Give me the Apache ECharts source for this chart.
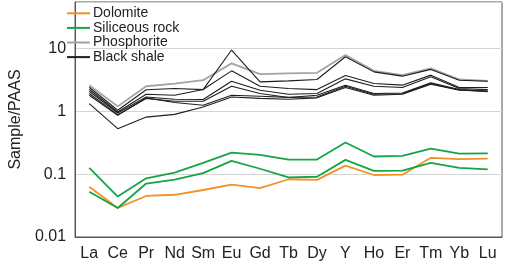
<!DOCTYPE html>
<html>
<head>
<meta charset="utf-8">
<script src="https://cdn.jsdelivr.net/npm/echarts@6/dist/echarts.min.js"></script>
<style>
  html, body { margin: 0; padding: 0; background: #fff; }
  #chart { width: 505px; height: 264px; }
</style>
</head>
<body>
<div id="chart"></div>
<script>
const elements = ['La', 'Ce', 'Pr', 'Nd', 'Sm', 'Eu', 'Gd', 'Tb', 'Dy', 'Y', 'Ho', 'Er', 'Tm', 'Yb', 'Lu']

// sample / PAAS normalised values
const dolomite = [0.063, 0.029, 0.045, 0.047, 0.056, 0.068, 0.060, 0.083, 0.081, 0.137, 0.097, 0.098, 0.182, 0.173, 0.177]
const siliceous1 = [0.126, 0.044, 0.086, 0.106, 0.151, 0.221, 0.203, 0.171, 0.171, 0.319, 0.191, 0.196, 0.256, 0.213, 0.215]
const siliceous2 = [0.0525, 0.029, 0.071, 0.082, 0.104, 0.163, 0.122, 0.089, 0.091, 0.169, 0.113, 0.114, 0.151, 0.126, 0.119]
const phosphorite = [2.61, 1.20, 2.51, 2.77, 3.13, 5.80, 3.91, 4.01, 4.10, 7.87, 4.41, 3.77, 4.82, 3.21, 3.05]
const shale1 = [2.42, 1.04, 2.21, 2.31, 2.22, 9.46, 2.94, 3.05, 3.21, 7.39, 4.25, 3.63, 4.65, 3.13, 3.02]
const shale2 = [2.25, 0.975, 1.87, 1.80, 2.22, 4.41, 2.51, 2.31, 2.22, 3.73, 2.77, 2.61, 3.77, 2.39, 2.39]
const shale3 = [2.09, 0.94, 1.69, 1.56, 1.54, 3.02, 2.17, 1.87, 1.92, 3.29, 2.51, 2.39, 3.54, 2.31, 2.22]
const shale4 = [1.92, 0.885, 1.60, 1.45, 1.45, 2.51, 1.92, 1.66, 1.80, 2.61, 1.92, 1.96, 2.84, 2.22, 2.11]
const shale5 = [1.80, 0.863, 1.64, 1.38, 1.25, 1.80, 1.74, 1.67, 1.69, 2.51, 1.87, 1.91, 2.75, 2.21, 2.05]
const shale6 = [1.33, 0.53, 0.81, 0.895, 1.17, 1.69, 1.61, 1.56, 1.64, 2.39, 1.80, 1.87, 2.70, 2.17, 2.09]

const ORANGE = '#f39121'
const GREEN = '#16a446'
const GREY = '#a3a3a3'
const BLACK = '#1e1e1e'
const font = 'Liberation Sans, Arial, sans-serif'

function mkLine(name, data, color, width) {
    return {
        name: name,
        type: 'line',
        data: data,
        symbol: 'none',
        color: color,
        lineStyle: { color: color, width: width },
        emphasis: { disabled: true },
        animation: false
    }
}

const chart = echarts.init(document.getElementById('chart'))
chart.setOption({
    animation: false,
    grid: { left: 53, right: 3, top: 2, bottom: 27, show: true, borderColor: '#555', borderWidth: 1 },
    legend: {
        data: ['Dolomite', 'Siliceous rock', 'Phosphorite', 'Black shale'],
        orient: 'vertical',
        left: 62,
        top: 1,
        itemWidth: 23,
        itemHeight: 2,
        itemGap: 0,
        icon: 'rect',
        textStyle: { fontFamily: font, fontSize: 14, color: '#222', lineHeight: 14.6, padding: [0, 0, 0, -2] }
    },
    xAxis: {
        type: 'category',
        data: elements,
        boundaryGap: true,
        axisLine: { lineStyle: { color: '#555' } },
        axisTick: { show: false },
        axisLabel: { fontFamily: font, fontSize: 16, color: '#222', margin: 9, interval: 0 }
    },
    yAxis: {
        type: 'log',
        logBase: 10,
        min: 0.01,
        max: 55,
        name: 'Sample/PAAS',
        nameLocation: 'middle',
        nameGap: 39,
        nameTextStyle: { fontFamily: font, fontSize: 16, color: '#222' },
        axisLine: { show: true, lineStyle: { color: '#555' } },
        axisTick: { show: false },
        splitLine: { lineStyle: { color: '#d4d4d4' } },
        axisLabel: {
            fontFamily: font, fontSize: 16, color: '#222', margin: 9,
            formatter: function (v) {
                const e = Math.log10(v)
                return Math.abs(e - Math.round(e)) < 1e-6 ? String(Math.pow(10, Math.round(e))) : ''
            }
        }
    },
    series: [
        mkLine('Dolomite', dolomite, ORANGE, 1.8),
        mkLine('Siliceous rock', siliceous1, GREEN, 1.8),
        mkLine('Siliceous rock', siliceous2, GREEN, 1.8),
        mkLine('Phosphorite', phosphorite, GREY, 1.8),
        mkLine('Black shale', shale1, BLACK, 1.1),
        mkLine('Black shale', shale2, BLACK, 1.1),
        mkLine('Black shale', shale3, BLACK, 1.1),
        mkLine('Black shale', shale4, BLACK, 1.1),
        mkLine('Black shale', shale5, BLACK, 1.1),
        mkLine('Black shale', shale6, BLACK, 1.1)
    ]
})
</script>
</body>
</html>
